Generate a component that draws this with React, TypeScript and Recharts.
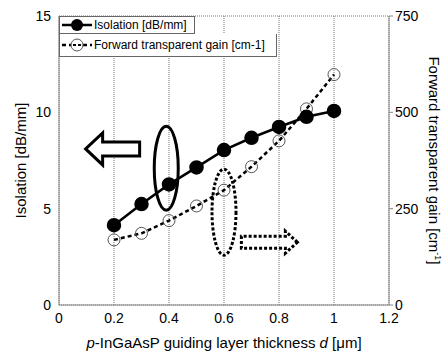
import React from 'react';
import {
  ComposedChart,
  Line,
  XAxis,
  YAxis,
  CartesianGrid,
  ReferenceDot,
} from 'recharts';

const thickness = [0.2, 0.3, 0.4, 0.5, 0.6, 0.7, 0.8, 0.9, 1.0];
const isolation = [4.14, 5.24, 6.26, 7.14, 8.04, 8.68, 9.24, 9.77, 10.07];
const gain = [169, 186, 219, 257, 298, 359, 426, 509, 598];

const xTicks = [0, 0.2, 0.4, 0.6, 0.8, 1, 1.2];
const leftTicks = [0, 5, 10, 15];
const rightTicks = [0, 250, 500, 750];

const data = thickness.map((d, i) => ({ d, isolation: isolation[i], gain: gain[i] }));

const font = '"Liberation Sans", Arial, sans-serif';

// legend drawn as two stacked boxes in the top-left corner of the plot
const LegendBox = () => (
  <div style={{ position: 'absolute', left: 59, top: 16, fontFamily: font, fontSize: 12, color: '#000' }}>
    <div style={{ display: 'flex', alignItems: 'center', width: 136, height: 18, border: '1px solid #666', boxSizing: 'border-box', background: '#fff' }}>
      <svg width={34} height={14}>
        <line x1={2} y1={7} x2={32} y2={7} stroke="#000" strokeWidth={2.5} />
        <circle cx={17} cy={7} r={6} fill="#000" />
      </svg>
      <span>Isolation [dB/mm]</span>
    </div>
    <div style={{ display: 'flex', alignItems: 'center', width: 218, height: 23, border: '1px solid #666', borderTop: 'none', boxSizing: 'border-box', background: '#fff' }}>
      <svg width={34} height={14}>
        <line x1={2} y1={7} x2={32} y2={7} stroke="#000" strokeWidth={2.5} strokeDasharray="4 3" />
        <circle cx={17} cy={7} r={6} fill="#fff" stroke="#555" strokeWidth={1} />
        <line x1={13} y1={7} x2={21} y2={7} stroke="#000" strokeWidth={2} strokeDasharray="3 2" />
      </svg>
      <span>Forward transparent gain [cm-1]</span>
    </div>
  </div>
);

const RightLabel = (props: any) => {
  const { viewBox } = props;
  const x = viewBox.x + 40;
  const y = viewBox.y + viewBox.height / 2;
  return (
    <text x={x} y={y} transform={`rotate(90 ${x} ${y})`} textAnchor="middle" fontFamily={font} fontSize={15} fill="#000">
      Forward transparent gain [cm<tspan dy={-6} fontSize={9}>-1</tspan><tspan dy={6}>]</tspan>
    </text>
  );
};

const LeftLabel = (props: any) => {
  const { viewBox } = props;
  const x = viewBox.x + 26;
  const y = viewBox.y + viewBox.height / 2;
  return (
    <text x={x} y={y} transform={`rotate(-90 ${x} ${y})`} textAnchor="middle" fontFamily={font} fontSize={15} fill="#000">
      Isolation [dB/mm]
    </text>
  );
};

const XLabel = (props: any) => {
  const { viewBox } = props;
  const x = viewBox.x + viewBox.width / 2;
  const y = viewBox.y + 43;
  return (
    <text x={x} y={y} textAnchor="middle" fontFamily={font} fontSize={15} fill="#000">
      <tspan fontStyle="italic">p</tspan>-InGaAsP guiding layer thickness <tspan fontStyle="italic">d</tspan> [μm]
    </text>
  );
};

const SolidEllipse = (p: any) => (
  <ellipse cx={p.cx} cy={p.cy} rx={12} ry={42} fill="none" stroke="#000" strokeWidth={3} />
);
const DottedEllipse = (p: any) => (
  <ellipse cx={p.cx} cy={p.cy} rx={12} ry={43} fill="none" stroke="#000" strokeWidth={3} strokeDasharray="3 2" />
);
const LeftArrow = (p: any) => {
  const { cx, cy } = p;
  const pts = [
    [cx - 27, cy], [cx - 10, cy - 16], [cx - 10, cy - 7], [cx + 27, cy - 7],
    [cx + 27, cy + 7], [cx - 10, cy + 7], [cx - 10, cy + 16],
  ].map((q) => q.join(',')).join(' ');
  return <polygon points={pts} fill="#fff" stroke="#000" strokeWidth={3} />;
};
const RightArrow = (p: any) => {
  const { cx, cy } = p;
  const pts = [
    [cx + 28, cy], [cx + 16, cy - 11], [cx + 16, cy - 6], [cx - 28, cy - 6],
    [cx - 28, cy + 6], [cx + 16, cy + 6], [cx + 16, cy + 11],
  ].map((q) => q.join(',')).join(' ');
  return <polygon points={pts} fill="none" stroke="#000" strokeWidth={3} strokeDasharray="3 2" />;
};

const App: React.FC = () => {
  return (
    <div style={{ position: 'absolute', left: 0, top: 0, width: 448, height: 354, background: '#fff' }}>
      <ComposedChart
        width={448}
        height={354}
        data={data}
        margin={{ top: 16, right: 0, left: 0, bottom: 0 }}
      >
        <CartesianGrid stroke="#777" strokeDasharray="1 1" />
        <XAxis
          dataKey="d"
          type="number"
          domain={[0, 1.2]}
          ticks={xTicks}
          height={49}
          tickLine={false}
          stroke="#888"
          tick={{ fill: '#000', fontSize: 14, fontFamily: font }}
          tickFormatter={(v: number) => String(Math.round(v * 10) / 10)}
          label={<XLabel />}
        />
        <YAxis
          yAxisId="left"
          domain={[0, 15]}
          ticks={leftTicks}
          width={59}
          tickLine={false}
          stroke="#888"
          tick={{ fill: '#000', fontSize: 14, fontFamily: font }}
          label={<LeftLabel />}
        />
        <YAxis
          yAxisId="right"
          orientation="right"
          domain={[0, 750]}
          ticks={rightTicks}
          width={59}
          tickSize={4}
          stroke="#888"
          tick={{ fill: '#000', fontSize: 14, fontFamily: font }}
          label={<RightLabel />}
        />
        <Line
          yAxisId="right"
          dataKey="gain"
          stroke="#000"
          strokeWidth={2.5}
          strokeDasharray="4 3"
          dot={{ r: 6, fill: 'none', stroke: '#555', strokeWidth: 1, strokeDasharray: '' }}
          isAnimationActive={false}
        />
        <Line
          yAxisId="left"
          dataKey="isolation"
          stroke="#000"
          strokeWidth={2.5}
          dot={{ r: 6, fill: '#000', stroke: '#000' }}
          isAnimationActive={false}
        />
        <ReferenceDot yAxisId="left" x={0.39} y={7.1} shape={<SolidEllipse />} />
        <ReferenceDot yAxisId="left" x={0.195} y={8.1} shape={<LeftArrow />} />
        <ReferenceDot yAxisId="right" x={0.6} y={241} shape={<DottedEllipse />} />
        <ReferenceDot yAxisId="right" x={0.765} y={163} shape={<RightArrow />} />
      </ComposedChart>
      <LegendBox />
    </div>
  );
};

export default App;
